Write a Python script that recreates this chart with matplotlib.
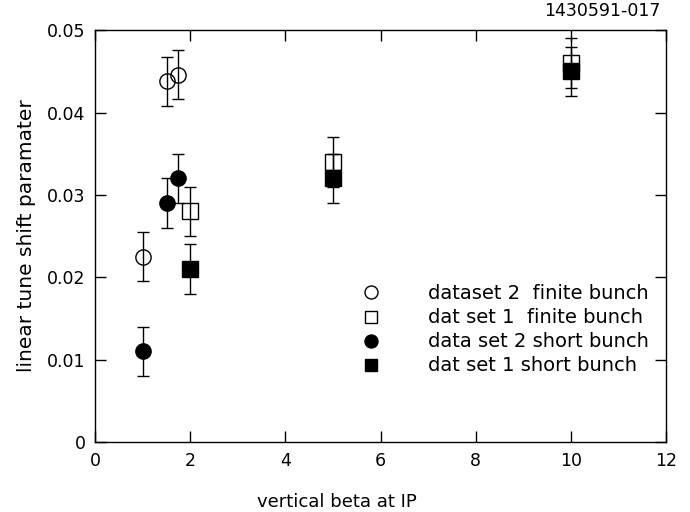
import matplotlib
matplotlib.use("Agg")
from matplotlib import pyplot as plt

plt.rcParams['font.family'] = ['DejaVu Sans']

# dataset 2 finite bunch (open circles)
x_d2_fin = [1.0, 1.5, 1.75]
y_d2_fin = [0.0225, 0.0438, 0.0446]
e_d2_fin = [0.003, 0.003, 0.003]

# dat set 1 finite bunch (open squares)
x_d1_fin = [2.0, 5.0, 10.0]
y_d1_fin = [0.028, 0.034, 0.046]
e_d1_fin = [0.003, 0.003, 0.003]

# data set 2 short bunch (filled circles)
x_d2_sh = [1.0, 1.5, 1.75]
y_d2_sh = [0.011, 0.029, 0.032]
e_d2_sh = [0.003, 0.003, 0.003]

# dat set 1 short bunch (filled squares)
x_d1_sh = [2.0, 5.0, 10.0]
y_d1_sh = [0.021, 0.032, 0.045]
e_d1_sh = [0.003, 0.003, 0.003]

fig = plt.figure(figsize=(6.9, 5.12), dpi=100)
ax = fig.add_axes([0.138, 0.137, 0.827, 0.804])

eb = dict(ls='none', ecolor='black', elinewidth=1.0, capsize=4, capthick=1.0, markersize=11,
          markeredgecolor='black', markeredgewidth=1.0)
ax.errorbar(x_d2_fin, y_d2_fin, yerr=e_d2_fin, marker='o', mfc='none', label='dataset 2  finite bunch', **eb)
ax.errorbar(x_d1_fin, y_d1_fin, yerr=e_d1_fin, marker='s', mfc='none', label='dat set 1  finite bunch', **eb)
ax.errorbar(x_d2_sh, y_d2_sh, yerr=e_d2_sh, marker='o', mfc='black', label='data set 2 short bunch', **eb)
ax.errorbar(x_d1_sh, y_d1_sh, yerr=e_d1_sh, marker='s', mfc='black', label='dat set 1 short bunch', **eb)

ax.set_xlim(0, 12)
ax.set_ylim(0, 0.05)
ax.set_xticks([0, 2, 4, 6, 8, 10, 12])
ax.set_yticks([0, 0.01, 0.02, 0.03, 0.04, 0.05])
ax.set_yticklabels(['0', '0.01', '0.02', '0.03', '0.04', '0.05'])
ax.tick_params(direction='in', length=8, width=1, top=True, right=True, labelsize=12.5, pad=7)
for s in ax.spines.values():
    s.set_linewidth(1.0)

ax.set_xlabel('vertical beta at IP', fontsize=13, labelpad=16)
ax.xaxis.set_label_coords(0.424, -0.125)
ax.set_ylabel('linear tune shift paramater', fontsize=14.5, labelpad=8)

handles, labels = ax.get_legend_handles_labels()
handles = [h[0] for h in handles]
ax.legend(handles, labels, loc='center left', bbox_to_anchor=(0.426, 0.272), frameon=False,
          fontsize=14, handlelength=1.6, handletextpad=2.1, labelspacing=0.26, markerscale=0.85)

fig.text(0.957, 0.978, '1430591-017', ha='right', va='center', fontsize=12.5)

fig.savefig('out.png', dpi=100)
